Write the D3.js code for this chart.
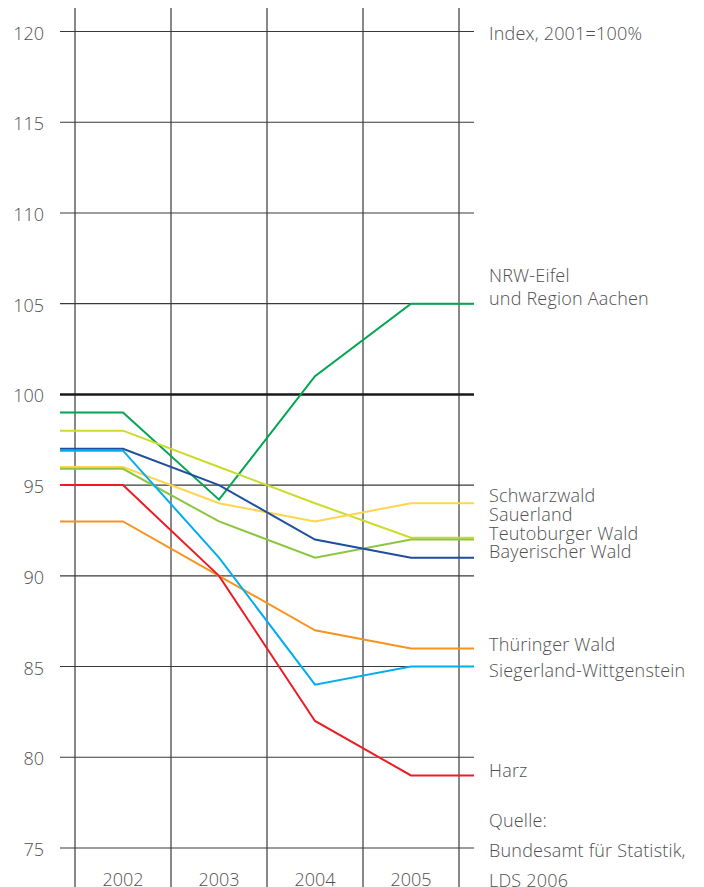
<!DOCTYPE html>
<html><head><meta charset="utf-8">
<script src="https://cdn.jsdelivr.net/npm/d3@7"></script>
<style>
html,body{margin:0;padding:0;background:#fff;}
svg{display:block;}
text{font-family:"Open Sans","Noto Sans",sans-serif;font-weight:300;fill:#505050;}
</style></head>
<body>
<script>
const years = ["2002","2003","2004","2005"];
const yTicks = [75,80,85,90,95,100,105,110,115,120];
const nrwEifel      = [99, 94.2, 101, 105];
const schwarzwald   = [96, 94, 93, 94];
const sauerland     = [98, 96, 94, 92.1];
const teutoburger   = [95.9, 93, 91, 92];
const bayerischer   = [97, 95, 92, 91];
const thueringer    = [93, 90, 87, 86];
const siegerland    = [96.9, 91, 84, 85];
const harz          = [95, 90, 82, 79];
const seriesNames = ["NRW-Eifel und Region Aachen","Sauerland","Schwarzwald","Teutoburger Wald","Bayerischer Wald","Thüringer Wald","Siegerland-Wittgenstein","Harz"];
const seriesValues = [nrwEifel, sauerland, schwarzwald, teutoburger, bayerischer, thueringer, siegerland, harz];
const seriesColors = ["#00a651","#cbdb2a","#ffd54f","#8cc63f","#1f4e9c","#f7941d","#00aeef","#ed1c24"];
const labelTexts = ["Index, 2001=100%","NRW-Eifel","und Region Aachen","Schwarzwald","Sauerland","Teutoburger Wald","Bayerischer Wald","Thüringer Wald","Siegerland-Wittgenstein","Harz","Quelle:","Bundesamt für Statistik,","LDS 2006"];
// layout: vertical centre (px) of each right-hand text line
const labelCenters = [33.5,276,298.5,496,515,534,552,644.5,670.5,771,820.5,851,881];

const W = 704, H = 887;
const svg = d3.select("body").append("svg").attr("width",W).attr("height",H);
const x = d3.scaleLinear().domain([-0.5,3.5]).range([75,459]);
const y = d3.scaleLinear().domain([75,120]).range([848,31.5]);
const gx0 = 60, gx1 = 474;

// horizontal grid
svg.append("g").selectAll("line").data(yTicks.filter(d=>d!==100)).join("line")
  .attr("x1",gx0).attr("x2",gx1).attr("y1",d=>y(d)).attr("y2",d=>y(d))
  .attr("stroke","#3a3a3a").attr("stroke-width",1.1);
// vertical grid
svg.append("g").selectAll("line").data(d3.range(years.length+1)).join("line")
  .attr("x1",d=>x(d-0.5)).attr("x2",d=>x(d-0.5)).attr("y1",8).attr("y2",H)
  .attr("stroke","#3a3a3a").attr("stroke-width",1.2);
// 100 line
svg.append("line").attr("x1",gx0).attr("x2",gx1).attr("y1",y(100)).attr("y2",y(100))
  .attr("stroke","#1a1a1a").attr("stroke-width",2.5);

// y tick labels
svg.append("g").selectAll("text").data(yTicks).join("text")
  .attr("x",44).attr("y",d=>y(d)+8).attr("text-anchor","end")
  .attr("font-size",18).text(d=>d);

// year labels
svg.append("g").selectAll("text").data(years).join("text")
  .attr("x",(d,i)=>x(i)).attr("y",886).attr("text-anchor","middle")
  .attr("font-size",18).text(d=>d);

// lines
const line = d3.line().x(d=>d[0]).y(d=>y(d[1]));
seriesValues.forEach((vals,si)=>{
  const pts = [[gx0, vals[0]]].concat(vals.map((v,i)=>[x(i),v])).concat([[gx1, vals[vals.length-1]]]);
  svg.append("path").attr("d",line(pts)).attr("fill","none")
    .attr("stroke",seriesColors[si]).attr("stroke-width",2).attr("stroke-linejoin","miter");
});

// right labels
svg.append("g").selectAll("text").data(labelTexts).join("text")
  .attr("x",489).attr("y",(d,i)=>labelCenters[i]+6.4)
  .attr("font-size",18).attr("letter-spacing",0.2).text(d=>d);
</script>
</body></html>
